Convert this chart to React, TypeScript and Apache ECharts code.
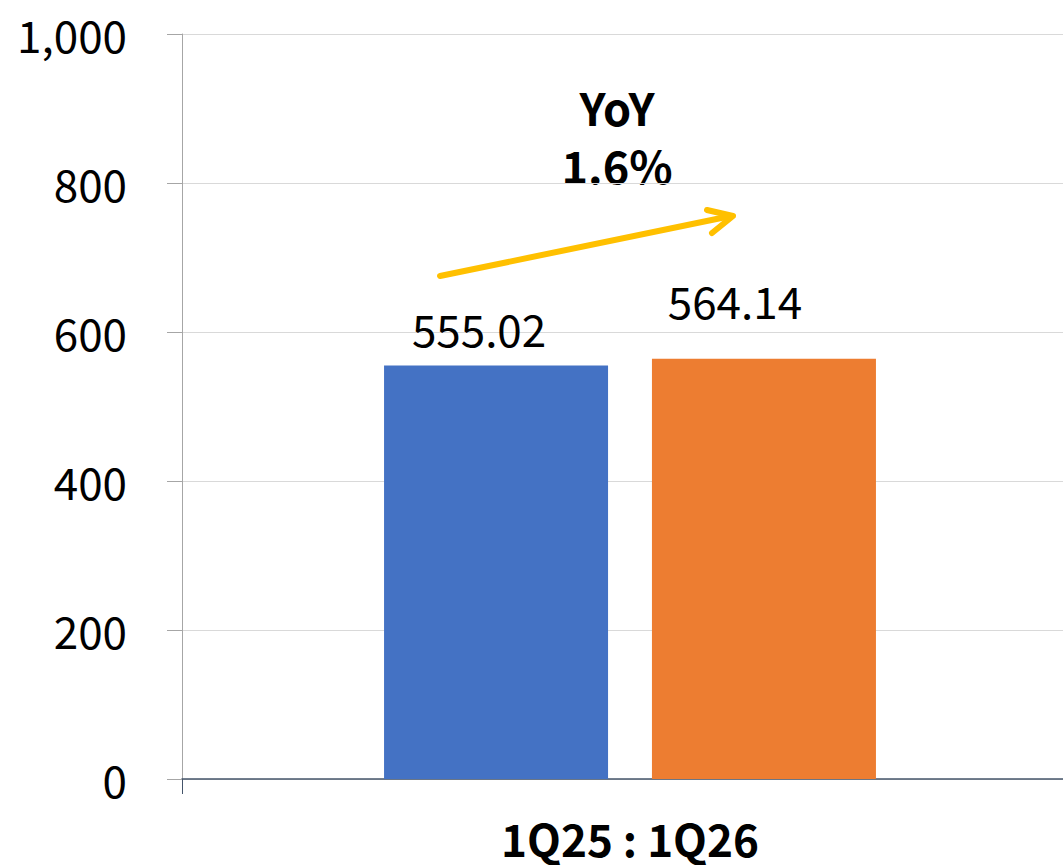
import React, { useEffect, useRef } from "react";
import * as echarts from "echarts";

const categories = ["1Q25 : 1Q26"];
const series1Q25 = [555.02];
const series1Q26 = [564.14];
const yTicks = { min: 0, max: 1000, interval: 200 };
const annotationTitle = "YoY";
const annotationValue = "1.6%";

const FONT = "'Noto Sans CJK KR', 'Noto Sans', sans-serif";

export default function App() {
  const ref = useRef<HTMLDivElement>(null);
  useEffect(() => {
    if (!ref.current) return;
    const chart = echarts.init(ref.current, null, { renderer: "svg" });
    const baseLabel = {
      show: true,
      position: "top",
      fontSize: 44,
      color: "#000",
      fontFamily: FONT,
      formatter: (p: any) => p.value.toFixed(2),
    };
    chart.setOption({
      animation: false,
      grid: { left: 182, right: 0, top: 34, bottom: 86, containLabel: false },
      xAxis: {
        type: "category",
        data: categories,
        boundaryGap: true,
        axisLine: { show: true, lineStyle: { color: "#44546a", width: 1.5 } },
        axisTick: { show: true, length: 15, lineStyle: { color: "#44546a" } },
        axisLabel: {
          fontSize: 44,
          lineHeight: 38,
          fontWeight: "bold",
          color: "#000",
          fontFamily: FONT,
          margin: 40,
        },
      },
      yAxis: {
        type: "value",
        min: yTicks.min,
        max: yTicks.max,
        interval: yTicks.interval,
        axisLine: { show: true, lineStyle: { color: "#a6a6a6" } },
        axisTick: { show: true, length: 15, lineStyle: { color: "#a6a6a6" } },
        splitLine: { show: true, lineStyle: { color: "#d9d9d9" } },
        axisLabel: {
          fontSize: 44,
          color: "#000",
          fontFamily: FONT,
          margin: 55,
          formatter: (v: number) => v.toLocaleString("en-US"),
        },
      },
      series: [
        {
          name: "1Q25",
          type: "bar",
          data: series1Q25,
          barWidth: "25%",
          barGap: "19.6%",
          itemStyle: { color: "#4472c4" },
          label: { ...baseLabel, distance: 16, offset: [-17, 0] },
        },
        {
          name: "1Q26",
          type: "bar",
          data: series1Q26,
          barWidth: "25%",
          barGap: "19.6%",
          itemStyle: { color: "#ed7d31" },
          label: { ...baseLabel, distance: 37, offset: [-29, 0] },
        },
      ],
      graphic: [
        {
          type: "text",
          x: 617,
          y: 106,
          style: {
            text: annotationTitle,
            align: "center",
            verticalAlign: "middle",
            fill: "#000",
            lineHeight: 46,
            font: "bold 45px " + FONT,
          },
        },
        {
          type: "text",
          x: 617,
          y: 164,
          style: {
            text: annotationValue,
            align: "center",
            verticalAlign: "middle",
            fill: "#000",
            lineHeight: 46,
            font: "bold 45px " + FONT,
          },
        },
        {
          type: "line",
          shape: { x1: 440, y1: 276, x2: 731, y2: 216 },
          style: { stroke: "#ffc000", lineWidth: 6, lineCap: "round" },
        },
        {
          type: "polyline",
          shape: { points: [[707, 210], [733, 216], [712, 233]] },
          style: { stroke: "#ffc000", lineWidth: 6, lineCap: "round", lineJoin: "round", fill: "none" },
        },
      ],
    });
    return () => chart.dispose();
  }, []);
  return (
    <div style={{ position: "absolute", left: 0, top: 0, width: 1063, height: 865, overflow: "hidden", background: "#fff" }}>
      <div ref={ref} style={{ width: 1078, height: 865 }} />
    </div>
  );
}
